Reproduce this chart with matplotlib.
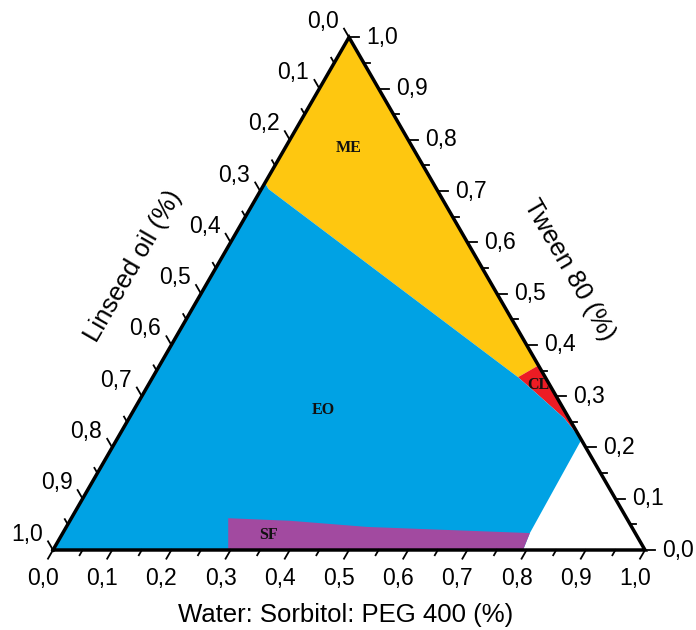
import numpy as np
import matplotlib
matplotlib.use("Agg")
import matplotlib.pyplot as plt

# ---------------- data (ternary fractions) ----------------
# axis tick values
tick_values = [round(0.1 * i, 1) for i in range(11)]
minor_values = [0.05 + 0.1 * i for i in range(10)]

# phase boundaries as (water, tween) pairs; oil = 1 - water - tween
# ME / EO boundary (from left edge to CL region)
me_eo_water = [0.0, 0.012, 0.617]
me_eo_tween = [0.716, 0.704, 0.337]
# top of CL on right edge
cl_top_water = [0.64]
cl_top_tween = [0.36]
# CL / EO curved boundary
cl_eo_water = [0.617, 0.672, 0.735, 0.785]
cl_eo_tween = [0.337, 0.300, 0.257, 0.215]
# EO right boundary down to base
eo_right_water = [0.785, 0.789, 0.794]
eo_right_tween = [0.215, 0.033, 0.0]
# SF region outline
sf_water = [0.296, 0.265, 0.372, 0.508, 0.789, 0.794]
sf_tween = [0.0, 0.062, 0.057, 0.045, 0.033, 0.0]

region_names = ["ME", "EO", "CL", "SF"]
region_colors = ["#FEC710", "#00A2E4", "#EC1C24", "#A24AA0"]

S3 = np.sqrt(3) / 2


def tern(w, t):
    w = np.asarray(w, float)
    t = np.asarray(t, float)
    return w + t / 2, t * S3


# ---------------- figure ----------------
W, Hh = 696, 630
fig = plt.figure(figsize=(W / 100, Hh / 100), dpi=100)
ax = fig.add_axes([0, 0, 1, 1])
PX = 592.0
x0p, y0p = 53.0, 550.0
ax.set_xlim(-x0p / PX, (W - x0p) / PX)
ax.set_ylim((y0p - Hh) / PX, y0p / PX)
ax.axis("off")


def px(dx, dy):
    # pixel offset (dy positive = down) -> data offset
    return dx / PX, -dy / PX


# polygons
top_w, top_t = [0.0], [1.0]
bl_w, bl_t = [0.0], [0.0]

# ME
w = top_w + me_eo_water + cl_top_water
t = top_t + me_eo_tween + cl_top_tween
X, Y = tern(w, t)
ax.fill(X, Y, color=region_colors[0], lw=0, zorder=1)

# CL
w = cl_top_water + cl_eo_water
t = cl_top_tween + cl_eo_tween
X, Y = tern(w, t)
ax.fill(X, Y, color=region_colors[2], lw=0, zorder=1)

# EO (whole, SF drawn on top)
w = bl_w + me_eo_water + cl_eo_water[1:] + eo_right_water[1:]
t = bl_t + me_eo_tween + cl_eo_tween[1:] + eo_right_tween[1:]
X, Y = tern(w, t)
ax.fill(X, Y, color=region_colors[1], lw=0, zorder=1)

# SF
X, Y = tern(sf_water, sf_tween)
ax.fill(X, Y, color=region_colors[3], lw=0, zorder=2)

# triangle outline
X, Y = tern([0, 1, 0, 0], [0, 0, 1, 0])
ax.plot(X, Y, color="black", lw=2.5, zorder=5, solid_joinstyle="miter")

# ticks
maj_len, min_len = 10 / PX, 6 / PX
dir_bottom = np.array([-0.5, -S3])
dir_left = np.array([-0.5, S3])
dir_right = np.array([1.0, 0.0])

def fmt(v):
    return f"{v:.1f}".replace(".", ",")

tick_fs = 16.5
for v in tick_values + minor_values:
    major = v in tick_values
    L = maj_len if major else min_len
    # bottom (water)
    bx, by = tern(v, 0)
    ax.plot([bx, bx + dir_bottom[0] * L], [by, by + dir_bottom[1] * L],
            color="black", lw=1.3, zorder=5)
    # left (oil): oil=v -> tween = 1-v, water = 0
    lx, ly = tern(0, 1 - v)
    ax.plot([lx, lx + dir_left[0] * L], [ly, ly + dir_left[1] * L],
            color="black", lw=1.3, zorder=5)
    # right (tween): tween=v, water = 1-v
    rx, ry = tern(1 - v, v)
    ax.plot([rx, rx + dir_right[0] * L], [ry, ry + dir_right[1] * L],
            color="black", lw=1.3, zorder=5)
    if major:
        dx, dy = px(-10, 29)
        ax.text(bx + dx, by + dy, fmt(v), ha="center", va="center",
                fontsize=tick_fs, family="Liberation Sans")
        dx, dy = px(-26, -16)
        ax.text(lx + dx, ly + dy, fmt(v), ha="center", va="center",
                fontsize=tick_fs, family="Liberation Sans")
        dx, dy = px(33, 0)
        ax.text(rx + dx, ry + dy, fmt(v), ha="center", va="center",
                fontsize=tick_fs, family="Liberation Sans")

# axis titles
lab_fs = 18.5
ax.text((133 - x0p) / PX, (y0p - 266) / PX, "Linseed oil (%)", rotation=60,
        ha="center", va="center", fontsize=lab_fs, family="Liberation Sans")
ax.text((569 - x0p) / PX, (y0p - 270) / PX, "Tween 80 (%)", rotation=-60,
        ha="center", va="center", fontsize=lab_fs, family="Liberation Sans")
ax.text((346 - x0p) / PX, (y0p - 615) / PX, "Water: Sorbitol: PEG 400 (%)",
        ha="center", va="center", fontsize=lab_fs, family="Liberation Sans")

# region labels
label_pos = {"ME": (349, 148), "EO": (323, 410), "CL": (538, 385), "SF": (268, 535)}
for name in region_names:
    pxx, pyy = label_pos[name]
    ax.text((pxx - x0p) / PX, (y0p - pyy) / PX, name, ha="center", va="center",
            fontsize=11.5, fontweight="bold", family="Liberation Serif",
            color="#111111", zorder=6)

fig.savefig("out.png", dpi=100)
